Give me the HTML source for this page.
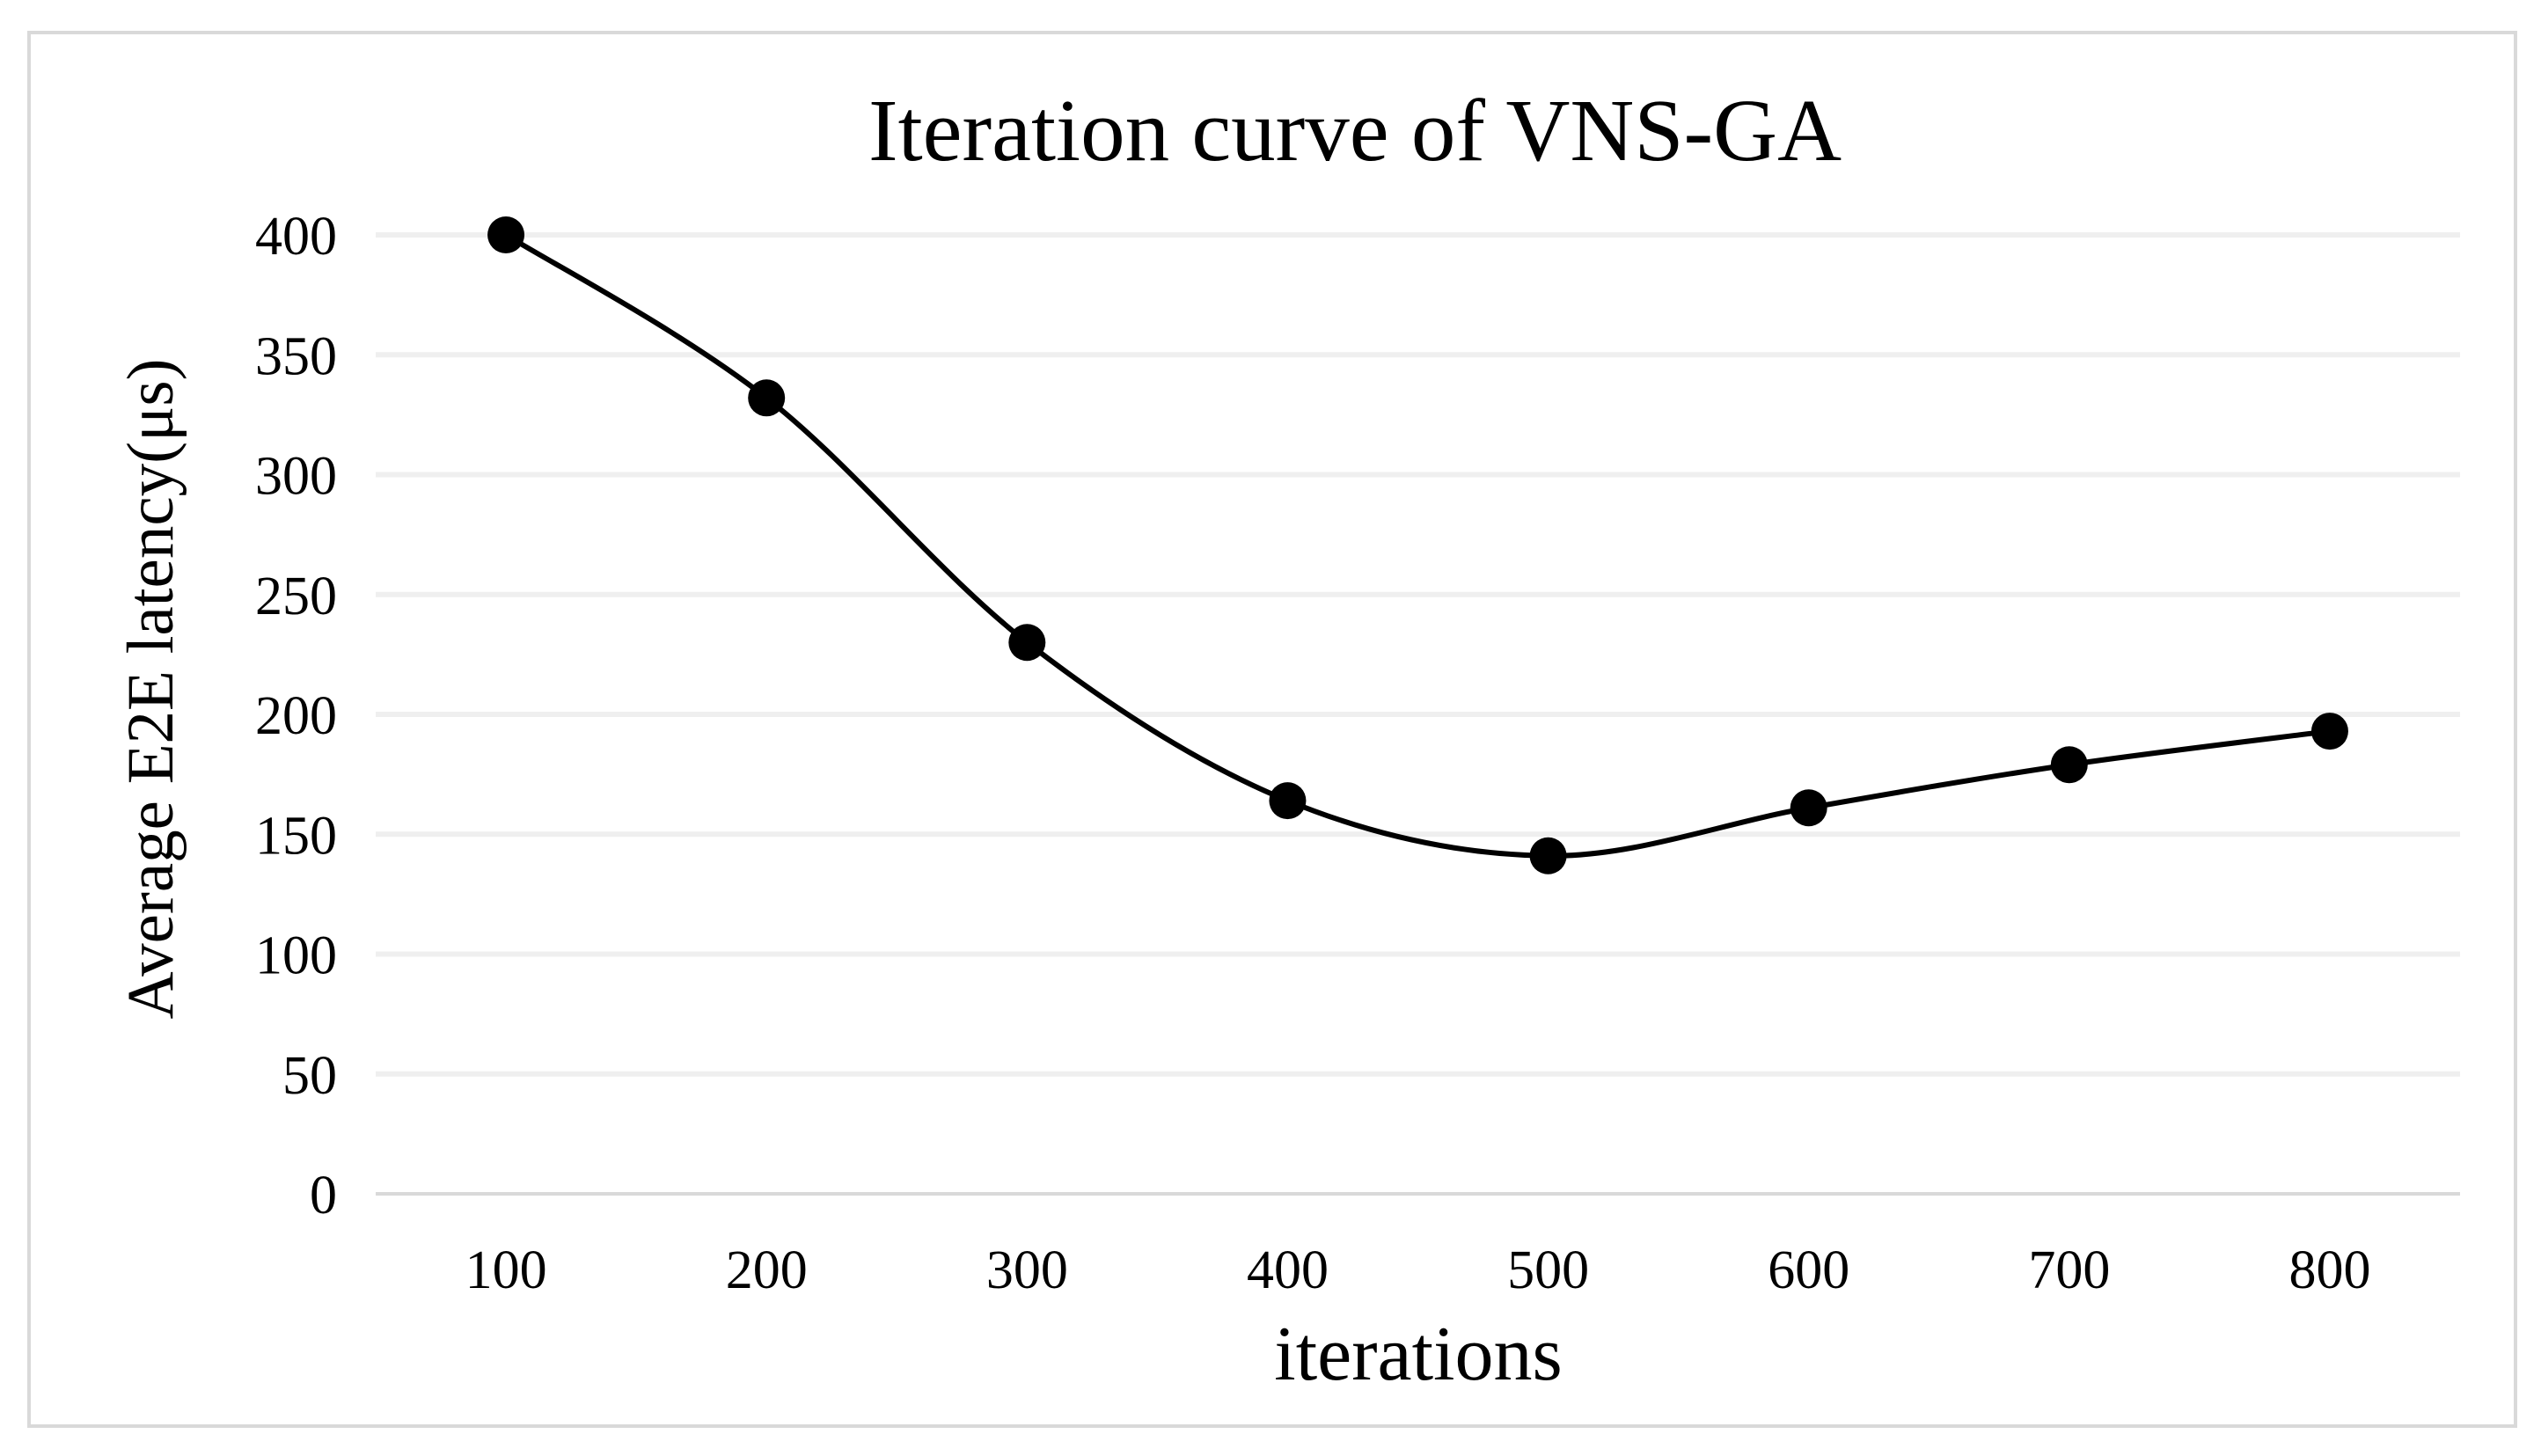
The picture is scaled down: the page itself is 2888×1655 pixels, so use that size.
<!DOCTYPE html>
<html><head><meta charset="utf-8"><style>
html,body{margin:0;padding:0;background:#fff;}
svg{display:block;font-family:"Liberation Serif",serif;}
</style></head><body>
<svg id="chart" width="2888" height="1655" viewBox="0 0 2888 1655">
<rect x="33" y="37" width="2826" height="1584" fill="#fff" stroke="#d9d9d9" stroke-width="4"/>
<text x="1540" y="182" font-size="101" text-anchor="middle" fill="#000">Iteration curve of VNS-GA</text>
<g id="grid"></g>
<g id="yt"></g>
<g id="xt"></g>
<path id="line" fill="none" stroke="#000" stroke-width="6"/>
<g id="pts"></g>
<text x="1612" y="1568" font-size="88" text-anchor="middle" fill="#000">iterations</text>
<text transform="translate(196,783) rotate(-90)" font-size="75" text-anchor="middle" fill="#000">Average E2E latency(μs)</text>
</svg>
<script>
const categories = ["100","200","300","400","500","600","700","800"];
const values = [400, 332, 230, 164, 141, 161, 179, 193];
const yTicks = [0,50,100,150,200,250,300,350,400];
const NS="http://www.w3.org/2000/svg";
const L=427,R=2796,T=267,B=1357,yMax=400;
const step=(R-L)/categories.length;
const xs=i=>L+step*(i+0.5);
const ys=v=>B-(v/yMax)*(B-T);
const g=document.getElementById('grid'),yt=document.getElementById('yt'),xt=document.getElementById('xt'),pts=document.getElementById('pts');
yTicks.forEach(t=>{
  const l=document.createElementNS(NS,'line');
  l.setAttribute('x1',L);l.setAttribute('x2',R);l.setAttribute('y1',ys(t));l.setAttribute('y2',ys(t));
  l.setAttribute('stroke',t===0?'#d9d9d9':'#efefef');l.setAttribute('stroke-width',t===0?4:6);
  
  
  g.appendChild(l);
  const tx=document.createElementNS(NS,'text');
  tx.setAttribute('x',383);tx.setAttribute('y',ys(t)+22);tx.setAttribute('font-size','62');tx.setAttribute('text-anchor','end');
  tx.textContent=t;
  
  
  yt.appendChild(tx);
});
categories.forEach((c,i)=>{
  const tx=document.createElementNS(NS,'text');
  tx.setAttribute('x',xs(i));tx.setAttribute('y',1464);tx.setAttribute('font-size','62');tx.setAttribute('text-anchor','middle');
  tx.textContent=c;
  
  
  xt.appendChild(tx);
});
const P=values.map((v,i)=>[xs(i),ys(v)]);
let d='M'+P[0][0]+','+P[0][1];
for(let i=0;i<P.length-1;i++){
  const p0=P[i-1]||P[i],p1=P[i],p2=P[i+1],p3=P[i+2]||P[i+1];
  const k=1/6;
  const c1=[p1[0]+(p2[0]-p0[0])*k,p1[1]+(p2[1]-p0[1])*k];
  const c2=[p2[0]-(p3[0]-p1[0])*k,p2[1]-(p3[1]-p1[1])*k];
  d+=` C${c1[0]},${c1[1]} ${c2[0]},${c2[1]} ${p2[0]},${p2[1]}`;
}
document.getElementById('line').setAttribute('d',d);
P.forEach((p,i)=>{
  const c=document.createElementNS(NS,'circle');
  c.setAttribute('cx',p[0]);c.setAttribute('cy',p[1]);c.setAttribute('r',21);c.setAttribute('fill','#000');
  
  
  pts.appendChild(c);
});
</script>
</body></html>
